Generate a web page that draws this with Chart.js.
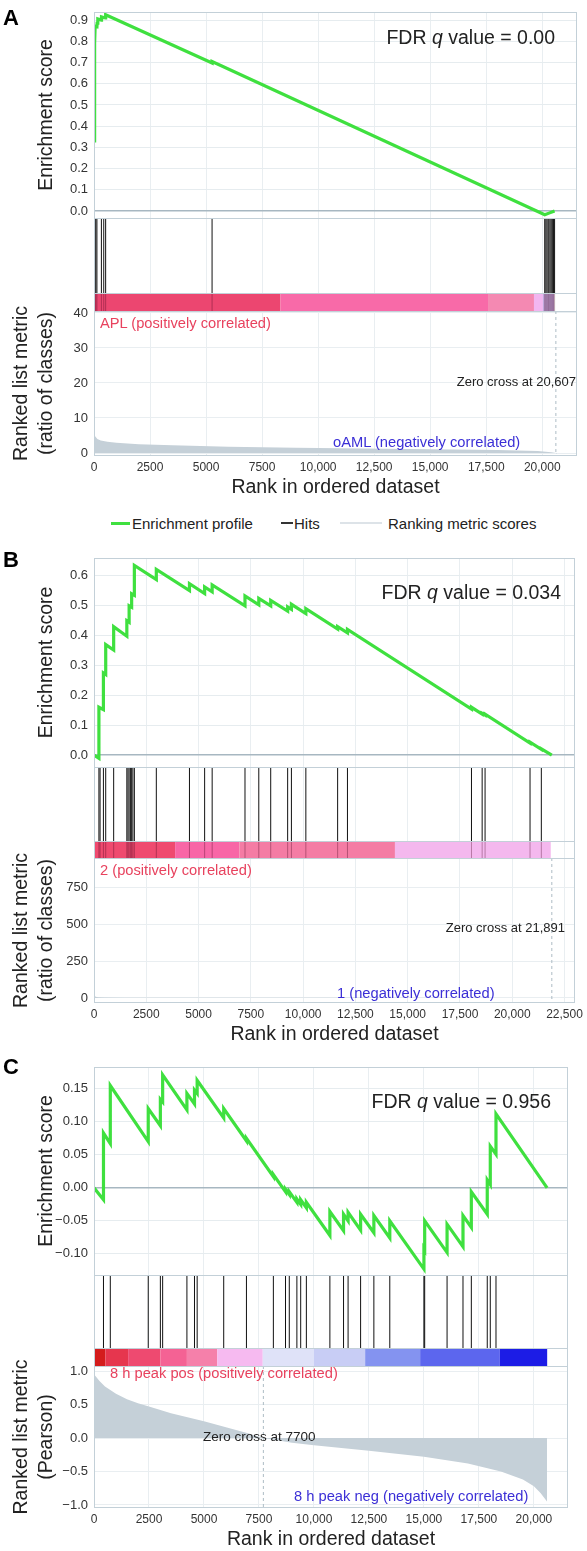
<!DOCTYPE html>
<html>
<head>
<meta charset="utf-8">
<script src="https://cdn.jsdelivr.net/npm/chart.js@4.4.1/dist/chart.umd.min.js"></script>
<style>
body { margin: 0; background: #fff; }
#page { position: relative; width: 587px; height: 1551px; overflow: hidden; font-family: "Liberation Sans", Arial, sans-serif; }
canvas { position: absolute; left: 0; }
.t { position: absolute; white-space: nowrap; line-height: 1; color: #222; }
.mark { position: absolute; }
</style>
</head>
<body>
<div id="page"></div>
<script>
// ---- panel A (APL vs oAML) ----
const esRankA  = [0, 15, 40, 50, 130, 140, 170, 330, 335, 505, 520, 5268, 5268, 20110, 20300, 20550]
const esScoreA = [0.33, 0.79, 0.79, 0.87, 0.868, 0.885, 0.905, 0.90, 0.915, 0.91, 0.925, 0.698, 0.705, -0.018, -0.01, 0.0]
const hitsA = [0, 40, 80, 130, 330, 435, 520, 5268, 20110, 20160, 20210, 20260, 20300, 20350, 20400, 20450, 20500, 20550]
const metRankA = [0, 50, 150, 300, 600, 1000, 2000, 3500, 6000, 9000, 12000, 15000, 18000, 19800, 20400, 20607, 20650]
const metValA  = [5.7, 4.8, 4.0, 3.6, 3.2, 2.9, 2.5, 2.2, 1.8, 1.5, 1.3, 1.1, 0.85, 0.55, 0.25, 0, -0.3]
const barEdgeA = [0, 8320, 17580, 19630, 20030, 20530]
const barColorA = ['#ec4670', '#f86aa8', '#f489b2', '#f2b6f0', '#c0a8dc']
const xTicksA = [0, 2500, 5000, 7500, 10000, 12500, 15000, 17500, 20000]
const esTicksA = [0, 0.1, 0.2, 0.3, 0.4, 0.5, 0.6, 0.7, 0.8, 0.9]
const metTicksA = [0, 10, 20, 30, 40]

// ---- panel B ----
const esRankB  = [0, 235, 235, 450, 450, 560, 560, 940, 940, 1570, 1570, 1680, 1680, 1800, 1800, 1930, 1930,
  2980, 2980, 4565, 4565, 5290, 5290, 5650, 5650, 7220, 7220, 7880, 7880, 8450, 8450, 9260, 9260, 9440, 9440,
  10130, 10130, 11650, 11650, 12120, 12120, 18050, 18050, 18560, 18560, 18700, 18700, 20850, 20850, 21390, 21390, 21891]
const esScoreB = [0, -0.011, 0.16, 0.152, 0.275, 0.27, 0.37, 0.352, 0.43, 0.398, 0.45, 0.445, 0.50, 0.495, 0.54, 0.535, 0.635,
  0.588, 0.622, 0.551, 0.574, 0.541, 0.563, 0.547, 0.57, 0.50, 0.533, 0.503, 0.525, 0.50, 0.518, 0.482, 0.496, 0.488, 0.505,
  0.474, 0.49, 0.422, 0.43, 0.409, 0.421, 0.154, 0.16, 0.137, 0.14, 0.134, 0.137, 0.04, 0.043, 0.019, 0.021, 0]
const hitsB = [235, 290, 450, 560, 940, 1570, 1625, 1680, 1750, 1800, 1860, 1930, 2980, 4565, 5290, 5650, 7220, 7880,
  8450, 9260, 9440, 10130, 11650, 12120, 18050, 18560, 18700, 20850, 21390]
const metRankB = [0, 30, 80, 200, 500, 1500, 5000, 12000, 20000, 21891, 21950]
const metValB  = [28, 16, 9, 5, 3.5, 2.5, 1.8, 1.2, 0.5, 0, -2]
const barEdgeB = [0, 3880, 6950, 14390, 21840]
const barColorB = ['#ef4a6f', '#f866a6', '#f47ca4', '#f4b8ee']
const xTicksB = [0, 2500, 5000, 7500, 10000, 12500, 15000, 17500, 20000, 22500]
const esTicksB = [0, 0.1, 0.2, 0.3, 0.4, 0.5, 0.6]
const metTicksB = [0, 250, 500, 750]

// ---- panel C ----
const esRankC  = [0, 431, 431, 741, 741, 2466, 2466, 3017, 3017, 3121, 3121, 4224, 4224, 4569, 4569, 4690, 4690,
  5897, 5897, 6931, 6931, 8155, 8155, 8707, 8707, 8879, 8879, 9224, 9224, 9397, 9397, 9655, 9655, 10724, 10724,
  11345, 11345, 11552, 11552, 12121, 12121, 12724, 12724, 13448, 13448, 15000, 15000, 15034, 15034, 16052, 16052,
  16776, 16776, 17155, 17155, 17879, 17879, 18017, 18017, 18276, 18276, 20600]
const esScoreC = [0, -0.018, 0.083, 0.067, 0.155, 0.07, 0.12, 0.094, 0.134, 0.13, 0.171, 0.118, 0.143, 0.127, 0.148, 0.143, 0.163,
  0.106, 0.12, 0.071, 0.075, 0.017, 0.02, -0.006, -0.002, -0.01, -0.006, -0.022, -0.017, -0.025, -0.018, -0.03, -0.022, -0.072, -0.036,
  -0.065, -0.04, -0.05, -0.037, -0.064, -0.04, -0.068, -0.042, -0.076, -0.05, -0.123, -0.092, -0.094, -0.05, -0.098, -0.055,
  -0.089, -0.042, -0.06, -0.006, -0.04, 0.012, 0.005, 0.063, 0.051, 0.112, 0]
const hitsC = [431, 741, 2466, 3017, 3121, 4224, 4569, 4690, 5897, 6931, 8155, 8707, 8879, 9224, 9397, 9655, 10724,
  11345, 11552, 12121, 12724, 13448, 15000, 15034, 16052, 16776, 17155, 17879, 18017, 18276]
const metRankC = [0, 250, 500, 1000, 1500, 2000, 2500, 3500, 5000, 6000, 7000, 7700, 9000, 10000, 12500, 15000, 17000, 18500, 19500, 20000, 20300, 20600]
const metValC  = [0.95, 0.85, 0.77, 0.66, 0.58, 0.52, 0.47, 0.37, 0.25, 0.16, 0.07, 0.0, -0.07, -0.11, -0.19, -0.28, -0.38, -0.5, -0.62, -0.72, -0.82, -0.95]
const barEdgeC = [0, 517, 1552, 3017, 4224, 5603, 7672, 10000, 12328, 14828, 18448, 20603]
const barColorC = ['#d41c1c', '#e6364e', '#ee4a70', '#f46294', '#f580aa', '#f6baf0', '#dfe2f8', '#c8cdf5', '#8493f0', '#5c66ee', '#1c1ce6']
const xTicksC = [0, 2500, 5000, 7500, 10000, 12500, 15000, 17500, 20000]
const esTicksC = [-0.10, -0.05, 0, 0.05, 0.10, 0.15]
const metTicksC = [-1, -0.5, 0, 0.5, 1]

// ---- labels ----
const panelLetters = ['A', 'B', 'C']
const fdrValues = ['0.00', '0.034', '0.956']
const zeroCross = [20607, 21891, 7700]
const posLabels = ['APL (positively correlated)', '2 (positively correlated)', '8 h peak pos (positively correlated)']
const negLabels = ['oAML (negatively correlated)', '1 (negatively correlated)', '8 h peak neg (negatively correlated)']
const metTitles = [['Ranked list metric', '(ratio of classes)'], ['Ranked list metric', '(ratio of classes)'], ['Ranked list metric', '(Pearson)']]
const legendLabels = ['Enrichment profile', 'Hits', 'Ranking metric scores']

const GREEN = '#3fe03f'
const page = document.getElementById('page')
Chart.defaults.font.family = '"Liberation Sans", Arial, sans-serif'

const pts = (xs, ys) => xs.map((x, i) => ({x: x, y: ys[i]}))
const hitPts = (hits, lo, hi) => hits.flatMap(h => [{x: h, y: lo}, {x: h, y: hi}, {x: h, y: null}])
const fmtRank = v => v >= 10000 ? v.toLocaleString('en-US') : String(v)
const fmtNum = (v, d) => (v < -1e-9 ? '\u2212' : '') + Math.abs(v).toFixed(d)
const useTicks = arr => s => { s.ticks = arr.map(v => ({value: v})) }

const panels = [
  {top: 0, height: 499, padTop: 12, padRight: 10, esH: 206, hitsH: 75, barH: 18, metH: 145, xMax: 21550,
   esMin: -0.033, esMax: 0.938, esDigits: 1, metMin: -0.857, metMax: 40.57, metDigits: 0,
   xTicks: xTicksA, esTicks: esTicksA, metTicks: metTicksA,
   esRank: esRankA, esScore: esScoreA, hits: hitsA, metRank: metRankA, metVal: metValA, barEdge: barEdgeA, barColor: barColorA, through: true},
  {top: 540, height: 506, padTop: 18, padRight: 12, esH: 209, hitsH: 74, barH: 17, metH: 145, xMax: 23000,
   esMin: -0.040, esMax: 0.660, esDigits: 1, metMin: -33.8, metMax: 946, metDigits: 0,
   xTicks: xTicksB, esTicks: esTicksB, metTicks: metTicksB,
   esRank: esRankB, esScore: esScoreB, hits: hitsB, metRank: metRankB, metVal: metValB, barEdge: barEdgeB, barColor: barColorB, through: true},
  {top: 1050, height: 501, padTop: 17, padRight: 19, esH: 208, hitsH: 73, barH: 18, metH: 142, xMax: 21550,
   esMin: -0.132, esMax: 0.183, esDigits: 2, metMin: -1.045, metMax: 1.075, metDigits: 1,
   xTicks: xTicksC, esTicks: esTicksC, metTicks: metTicksC,
   esRank: esRankC, esScore: esScoreC, hits: hitsC, metRank: metRankC, metVal: metValC, barEdge: barEdgeC, barColor: barColorC, through: false}
]

const framePlugin = {
  id: 'frame',
  afterDatasetsDraw(chart) {
    let {ctx, chartArea: a, scales} = chart
    let ys = [scales.yHits.top, scales.yHits.getPixelForValue(0), scales.yHits.bottom]
    ctx.save()
    ctx.strokeStyle = '#c3d0d8'
    ctx.lineWidth = 1
    ctx.strokeRect(a.left + 0.5, a.top + 0.5, a.width - 1, a.height - 1)
    ys.forEach(y => {
      ctx.beginPath()
      ctx.moveTo(a.left, Math.round(y) + 0.5)
      ctx.lineTo(a.right, Math.round(y) + 0.5)
      ctx.stroke()
    })
    ctx.restore()
  }
}

function fitY(s) {
  s.width = 94
  s.paddingTop = 0
  s.paddingBottom = 0
}

function makeChart(p, i) {
  let canvas = document.createElement('canvas')
  canvas.width = 587
  canvas.height = p.height
  canvas.style.top = p.top + 'px'
  page.appendChild(canvas)
  let barLo = -p.barH / p.hitsH

  let datasets = [
    {data: pts(p.esRank, p.esScore), yAxisID: 'yEs', borderColor: GREEN, borderWidth: 3.2, pointRadius: 0, order: 1},
    {data: hitPts(p.hits, 0, 1), yAxisID: 'yHits', borderColor: '#111', borderWidth: 1, pointRadius: 0, order: 2},
    {data: pts(p.barEdge, p.barEdge.map(() => barLo / 2)), yAxisID: 'yHits', borderWidth: p.barH,
     borderColor: p.barColor[0], borderCapStyle: 'butt', pointRadius: 0, order: 4,
     segment: {borderColor: c => p.barColor[c.p0DataIndex]}},
    {data: [{x: zeroCross[i], y: p.metMax}, {x: zeroCross[i], y: p.metMin}], yAxisID: 'yMet',
     borderColor: '#aebcc5', borderWidth: 1, borderDash: [3, 3], pointRadius: 0, order: 5},
    {data: pts(p.metRank, p.metVal), yAxisID: 'yMet', borderWidth: 0, borderColor: 'rgba(0,0,0,0)',
     backgroundColor: '#c5d0d8', fill: 'origin', pointRadius: 0, order: 6}
  ]
  if (p.through) {
    datasets.push({data: hitPts(p.hits, barLo, 0), yAxisID: 'yHits', borderColor: 'rgba(70,0,30,0.35)',
      borderWidth: 1, pointRadius: 0, order: 3})
  }

  let tickFont = {size: 13}
  new Chart(canvas, {
    type: 'line',
    data: {datasets: datasets},
    plugins: [framePlugin],
    options: {
      responsive: false,
      animation: false,
      devicePixelRatio: 1,
      events: [],
      layout: {padding: {top: p.padTop, right: p.padRight, left: 0, bottom: 0}},
      plugins: {legend: {display: false}, tooltip: {enabled: false}},
      scales: {
        x: {
          type: 'linear', position: 'bottom', min: 0, max: p.xMax,
          afterBuildTicks: useTicks(p.xTicks),
          ticks: {autoSkip: false, maxRotation: 0, padding: 4, color: '#333', font: {size: 12}, callback: v => fmtRank(v)},
          grid: {color: '#e9eef1', drawTicks: false},
          border: {display: false},
          title: {display: true, text: 'Rank in ordered dataset', color: '#222', font: {size: 19.5},
                  padding: {top: 0, bottom: 0}},
          afterFit: s => { s.height = 43; s.paddingLeft = 0; s.paddingRight = 0 }
        },
        yMet: {
          type: 'linear', axis: 'y', position: 'left', stack: 'p', stackWeight: p.metH, weight: 1,
          min: p.metMin, max: p.metMax,
          afterBuildTicks: useTicks(p.metTicks),
          ticks: {autoSkip: false, padding: 6, color: '#333', font: tickFont, callback: v => fmtNum(v, p.metDigits)},
          grid: {color: '#e9eef1', drawTicks: false},
          border: {display: false},
          title: {display: true, text: metTitles[i], color: '#222', font: {size: 19.5, lineHeight: 1.28},
                  padding: {top: 9.5, bottom: 0}},
          afterFit: fitY
        },
        yHits: {
          type: 'linear', axis: 'y', position: 'left', stack: 'p', stackWeight: p.hitsH + p.barH, weight: 2,
          min: barLo, max: 1,
          ticks: {display: false},
          grid: {display: false},
          border: {display: false},
          afterFit: fitY
        },
        yEs: {
          type: 'linear', axis: 'y', position: 'left', stack: 'p', stackWeight: p.esH, weight: 3,
          min: p.esMin, max: p.esMax,
          afterBuildTicks: useTicks(p.esTicks),
          ticks: {autoSkip: false, padding: 6, color: '#333', font: tickFont, callback: v => fmtNum(v, p.esDigits)},
          grid: {
            drawTicks: false,
            color: c => Math.abs(c.tick.value) < 1e-9 ? '#a7b7c1' : '#e6ecef',
            lineWidth: c => Math.abs(c.tick.value) < 1e-9 ? 1.6 : 1
          },
          border: {display: false},
          title: {display: true, text: 'Enrichment score', color: '#222', font: {size: 19.5},
                  padding: {top: 35.3, bottom: 0}},
          afterFit: fitY
        }
      }
    }
  })
}

function addText(html, o) {
  let d = document.createElement('div')
  d.className = 't'
  d.innerHTML = html
  d.style.fontSize = o.size + 'px'
  d.style.top = (o.cy - o.size / 2) + 'px'
  if (o.color) d.style.color = o.color
  if (o.bold) d.style.fontWeight = 'bold'
  if (o.left !== undefined) d.style.left = o.left + 'px'
  if (o.right !== undefined) d.style.right = (587 - o.right) + 'px'
  page.appendChild(d)
}

panels.forEach(makeChart)

// annotations
const notes = [
  {letter: 18, fdr: [555, 38], pos: [100, 323], zero: [576, 381], neg: [333, 442]},
  {letter: 560, fdr: [561, 593], pos: [100, 870], zero: [565, 927], neg: [337, 993]},
  {letter: 1067, fdr: [551, 1102], pos: [110, 1373], zero: [203, 1437], neg: [294, 1496]}
]
notes.forEach((n, i) => {
  addText(panelLetters[i], {left: 3, cy: n.letter, size: 22, bold: true, color: '#000'})
  addText('FDR <i>q</i> value = ' + fdrValues[i], {right: n.fdr[0], cy: n.fdr[1], size: 19.5})
  addText(posLabels[i], {left: n.pos[0], cy: n.pos[1], size: 14.7, color: '#e8425e'})
  addText(negLabels[i], {left: n.neg[0], cy: n.neg[1], size: 14.7, color: '#3b2fd6'})
  let zt = 'Zero cross at ' + fmtRank(zeroCross[i])
  if (i < 2) addText(zt, {right: n.zero[0], cy: n.zero[1], size: 13})
  else addText(zt, {left: n.zero[0], cy: n.zero[1], size: 13.5})
})

// legend under panel A
const legendMarks = [[111, 19, 3, GREEN], [281, 12, 1.5, '#333'], [340, 42, 2, '#dde3e8']]
const legendText = [132, 294, 388]
legendLabels.forEach((lab, i) => {
  let m = document.createElement('div')
  m.className = 'mark'
  let [x, w, h, c] = legendMarks[i]
  m.style.left = x + 'px'
  m.style.width = w + 'px'
  m.style.height = h + 'px'
  m.style.top = (523 - h / 2) + 'px'
  m.style.background = c
  page.appendChild(m)
  addText(lab, {left: legendText[i], cy: 523, size: 15})
})
</script>
</body>
</html>
